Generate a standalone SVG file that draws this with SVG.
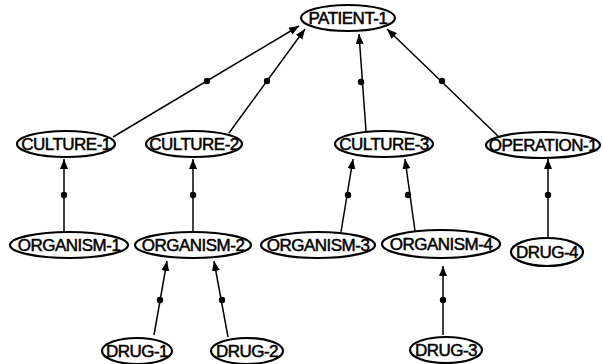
<svg xmlns="http://www.w3.org/2000/svg" width="603" height="364" viewBox="0 0 603 364">
  <style>
    .node ellipse { fill: #fff; stroke: #000; stroke-width: 2.2; }
    .node text { font-family: "Liberation Sans", Arial, sans-serif; font-size: 17px; letter-spacing: -0.5px; fill: #000; text-anchor: middle; dominant-baseline: central; stroke: #000; stroke-width: 0.5; }
    .edge line { stroke: #000; stroke-width: 1.5; marker-end: url(#arrow); }
    .edge circle { fill: #000; }
  </style>
  <defs>
    <marker id="arrow" markerUnits="userSpaceOnUse" markerWidth="12" markerHeight="10" refX="10" refY="4" orient="auto">
      <path d="M0,0 L10,4 L0,8 Z" fill="#000"/>
    </marker>
  </defs>
  <rect width="603" height="364" fill="#fff"/>

  <g id="connectors">
    <!-- cultures and operation to patient -->
    <g class="edge"><line x1="113" y1="137" x2="299" y2="26"/><circle cx="207" cy="81" r="3.2"/></g>
    <g class="edge"><line x1="229" y1="133" x2="305" y2="29"/><circle cx="267" cy="81" r="3.2"/></g>
    <g class="edge"><line x1="366" y1="131" x2="359" y2="34"/><circle cx="361" cy="82" r="3.2"/></g>
    <g class="edge"><line x1="498" y1="136" x2="387" y2="29"/><circle cx="442" cy="81" r="3.2"/></g>
    <!-- organisms to cultures -->
    <g class="edge"><line x1="64" y1="232" x2="64" y2="159"/><circle cx="64" cy="195" r="3.2"/></g>
    <g class="edge"><line x1="193" y1="232" x2="193" y2="159"/><circle cx="193" cy="195" r="3.2"/></g>
    <g class="edge"><line x1="341" y1="232" x2="353" y2="159"/><circle cx="348" cy="195" r="3.2"/></g>
    <g class="edge"><line x1="415" y1="231" x2="405" y2="159"/><circle cx="408" cy="195" r="3.2"/></g>
    <g class="edge"><line x1="548" y1="237" x2="548" y2="159"/><circle cx="548" cy="195" r="3.2"/></g>
    <!-- drugs to organisms -->
    <g class="edge"><line x1="154" y1="335" x2="167" y2="261"/><circle cx="160" cy="300" r="3.2"/></g>
    <g class="edge"><line x1="228" y1="337" x2="214" y2="261"/><circle cx="222" cy="300" r="3.2"/></g>
    <g class="edge"><line x1="443" y1="335" x2="443" y2="266"/><circle cx="443" cy="300" r="3.2"/></g>
  </g>

  <g id="patient-1" class="node"><ellipse cx="348" cy="18" rx="47" ry="13"/><text x="348" y="18">PATIENT-1</text></g>

  <g id="culture-1" class="node"><ellipse cx="66" cy="144" rx="49" ry="13"/><text x="66" y="144">CULTURE-1</text></g>
  <g id="culture-2" class="node"><ellipse cx="194" cy="144" rx="48" ry="13"/><text x="194" y="144">CULTURE-2</text></g>
  <g id="culture-3" class="node"><ellipse cx="384" cy="144" rx="49" ry="13"/><text x="384" y="144">CULTURE-3</text></g>
  <g id="operation-1" class="node"><ellipse cx="543" cy="145" rx="57" ry="13"/><text x="543" y="145">OPERATION-1</text></g>

  <g id="organism-1" class="node"><ellipse cx="69" cy="245" rx="59" ry="13"/><text x="69" y="245">ORGANISM-1</text></g>
  <g id="organism-2" class="node"><ellipse cx="193" cy="245" rx="58" ry="13"/><text x="193" y="245">ORGANISM-2</text></g>
  <g id="organism-3" class="node"><ellipse cx="318" cy="245" rx="57" ry="13"/><text x="318" y="245">ORGANISM-3</text></g>
  <g id="organism-4" class="node"><ellipse cx="441" cy="244" rx="59" ry="14"/><text x="441" y="244">ORGANISM-4</text></g>
  <g id="drug-4" class="node"><ellipse cx="547" cy="252" rx="36" ry="14"/><text x="547" y="252">DRUG-4</text></g>

  <g id="drug-1" class="node"><ellipse cx="137" cy="351" rx="35" ry="13"/><text x="137" y="351">DRUG-1</text></g>
  <g id="drug-2" class="node"><ellipse cx="247" cy="351" rx="36" ry="13"/><text x="247" y="351">DRUG-2</text></g>
  <g id="drug-3" class="node"><ellipse cx="446" cy="350" rx="36" ry="13"/><text x="446" y="350">DRUG-3</text></g>
</svg>
